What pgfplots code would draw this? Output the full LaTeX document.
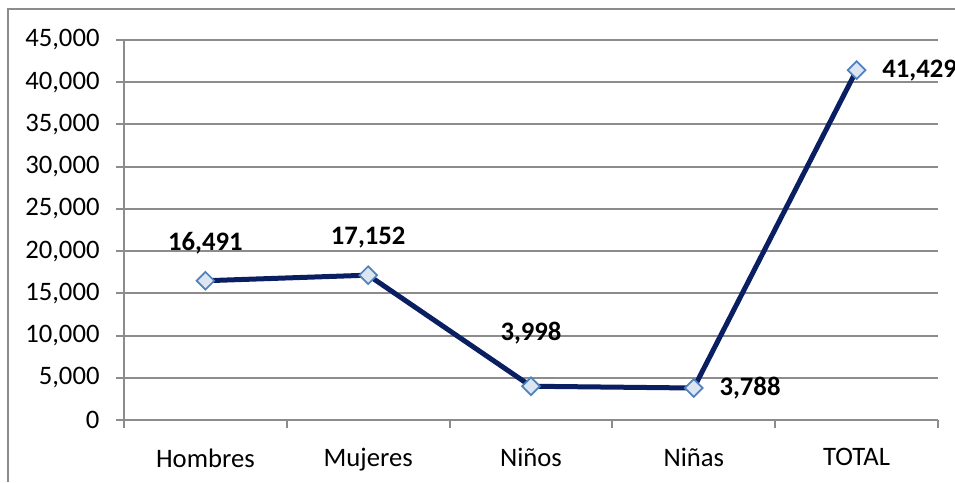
\documentclass[border=0pt]{standalone}
\usepackage{fontspec}
\setmainfont{Carlito}
\usepackage{pgfplots}
\pgfplotsset{compat=1.18}
\definecolor{gridgray}{HTML}{8C8C8C}
\definecolor{navy}{HTML}{0A1F62}
\definecolor{mfill}{HTML}{DCE6F2}
\definecolor{mdraw}{HTML}{4F81BD}

\begin{document}
\fontsize{20}{24}\selectfont
\begin{tikzpicture}
\useasboundingbox (0,0) rectangle (716.25pt,361.5pt);
\draw[gridgray, line width=1.5pt] (6pt,0) -- (6pt,354.75pt) -- (716.25pt,354.75pt);
\begin{axis}[
    at={(93pt,46.5pt)}, anchor=south west,
    width=610.5pt, height=285pt, scale only axis,
    clip=false,
    xmin=-0.5, xmax=4.5, ymin=0, ymax=45000,
    axis x line*=bottom, axis y line*=left,
    axis line style={-, draw=gridgray, line width=1.5pt},
    tick align=outside, major tick length=6pt,
    ytick={0,5000,...,45000},
    scaled y ticks=false,
    /pgf/number format/assume math mode=true,
    /pgf/number format/1000 sep={,},
    ymajorgrids, grid style={gridgray, line width=1.5pt},
    ytick style={draw=gridgray, line width=1.5pt},
    yticklabel style={xshift=-5.5pt, font=\fontsize{20}{24}\selectfont},
    xtick={0,1,2,3,4},
    xticklabels={Hombres,Mujeres,Niños,Niñas,TOTAL},
    xticklabel style={yshift=-8.5pt, font=\fontsize{20}{24}\selectfont},
    xtick style={draw=none},
    extra x ticks={-0.5,0.5,1.5,2.5,3.5,4.5},
    extra x tick labels={},
    extra x tick style={xtick style={draw=gridgray, line width=1.5pt}},
]
\addplot[navy, line width=3.75pt,
    mark=square*, mark size=4.7pt,
    mark options={rotate=45, fill=mfill, draw=mdraw, line width=1.3pt},
    nodes near coords,
    every node near coord/.append style={font=\fontsize{20}{24}\selectfont\bfseries, text=black,
        /pgf/number format/fixed, /pgf/number format/precision=0},
    coordinate style/.condition={\coordindex<2}{anchor=south, yshift=13pt},
    coordinate style/.condition={\coordindex==2}{anchor=south, yshift=24pt},
    coordinate style/.condition={\coordindex>2}{anchor=west, xshift=12pt},
] coordinates {
    (0,16491)
    (1,17152)
    (2,3998)
    (3,3788)
    (4,41429)
};
\end{axis}
\end{tikzpicture}
\end{document}
